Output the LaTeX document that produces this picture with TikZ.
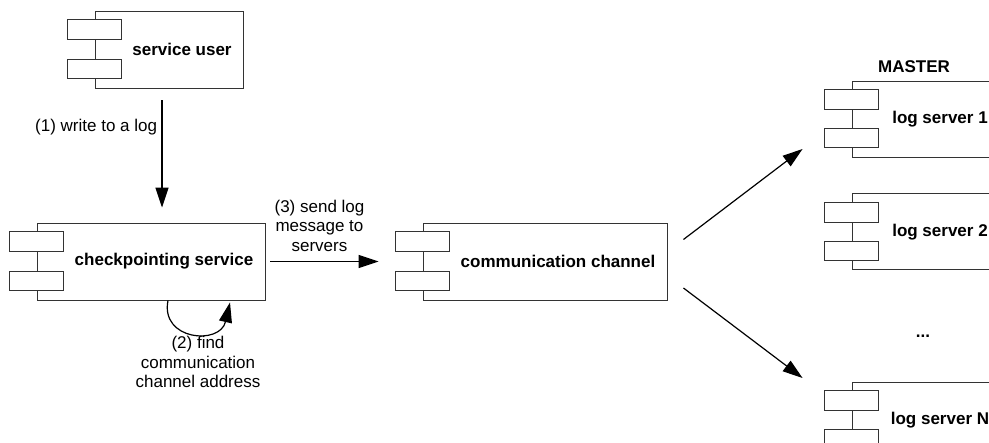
\documentclass[tikz,border=0pt]{standalone}
\usepackage{fontspec}
\setmainfont{Liberation Sans}
\usetikzlibrary{positioning}
\usetikzlibrary{arrows.meta}

\newcommand{\dfont}{\fontsize{17}{19.5}\selectfont}

\tikzset{
  comp/.style={draw=black!80, line width=0.9pt, minimum height=77pt,
    font=\dfont\bfseries, execute at begin node={\hspace*{26pt}}},
  port/.style={draw=black!80, line width=0.9pt, fill=white},
  arr/.style={line width=1.2pt, -{Triangle[length=20pt,width=13pt]}},
  lbl/.style={align=center, font=\dfont}
}

\begin{document}
\begin{tikzpicture}[x=1pt, y=-1pt]
    \useasboundingbox (0,0) rectangle (989,443);
    \clip (0,0) rectangle (989,443);

    \node[comp, minimum width=148pt] (user) at (169,49.5) {service user};
    \node[comp, minimum width=228pt] (ckpt) at (151,261.5) {checkpointing service};
    \node[comp, minimum width=244pt] (chan) at (545,261.5) {communication channel};
    \node[comp, minimum width=150pt, minimum height=76pt] (ls1) at (927,119) {log server 1};
    \node[comp, minimum width=150pt, minimum height=76pt, below=36pt of ls1] (ls2) {log server 2};
    \node[comp, minimum width=150pt, minimum height=76pt] (lsN) at (927,420) {log server N};
    \node[font=\dfont\bfseries, above=4pt of ls1.north, xshift=-13pt] (master) {MASTER};
    \node[font=\dfont\bfseries] (dots) at (923,336) {...};

    \foreach \n in {user,ckpt,chan,ls1,ls2,lsN} {
        \draw[port] ([shift={(-27,9)}]\n.north west) rectangle ++(54,20);
        \draw[port] ([shift={(-27,-29)}]\n.south west) rectangle ++(54,19);
    }

    \draw[arr] ([shift={(-7,12)}]user.south) -- node[lbl, pos=0.25, left=1pt] {(1) write to a log} ([shift={(11,-15)}]ckpt.north);
    \draw[arr] ([xshift=17pt]ckpt.south) .. controls +(-8,40) and +(-10,43) .. ([shift={(79,2)}]ckpt.south);
    \node[lbl] (find) at (198,362) {(2) find\\communication\\channel address};
    \draw[arr] ([xshift=5pt]ckpt.east) -- node[lbl, above=6pt, xshift=-5pt] {(3) send log\\message to\\servers} ([xshift=-44pt]chan.west);
    \draw[arr] ([shift={(16,-22)}]chan.east) -- ([shift={(-49,30)}]ls1.west);
    \draw[arr] ([shift={(16,26.5)}]chan.east) -- ([shift={(-49,-42)}]lsN.west);
\end{tikzpicture}
\end{document}
